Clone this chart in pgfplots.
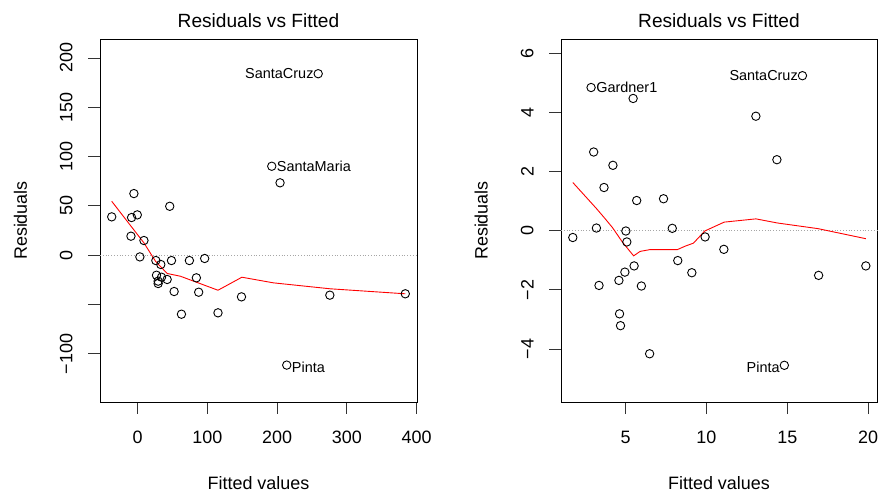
\documentclass[border=0pt]{standalone}
\usepackage{fontspec}
\setmainfont{Liberation Sans}
\usepackage{pgfplots}
\pgfplotsset{compat=1.18}

% Residual data of the two fitted models
\pgfplotstableread{
fit   res
-37.1  38.9
-8.6   38.2
-0.4   40.9
-5.3   62.5
-9.5   19.3
9.1    14.9
3.3    -1.7
26.2   -5.4
33.3   -9.4
48.6   -5.4
74.3   -5.4
96.2   -3.3
46.1   49.6
27.1  -20.3
34.3  -22.3
42.4  -24.6
29.5  -26.3
29.5  -28.7
84.3  -22.9
52.4  -36.8
87.6  -37.5
62.9  -59.8
115.3 -58.4
149.0 -42.2
275.7 -40.5
383.9 -39.1
213.9 -111.4
192.4  90.2
204.3  73.4
259.0 184.0
}\resA

\pgfplotstableread{
fit   res
-37.1  54.7
9.0    12.6
25.7   -6.1
42.4  -18.5
61.4  -21.3
115.3 -35.5
149.6 -22.3
194.7 -28.0
275.7 -34.0
383.9 -39.1
}\smoothA

\pgfplotstableread{
fit   res
2.87   4.84
5.47   4.47
3.03   2.66
4.22   2.21
3.67   1.46
5.69   1.02
7.35   1.08
15.94  5.24
13.06  3.87
14.36  2.40
1.74  -0.23
3.20   0.09
5.02  -0.01
5.08  -0.38
7.89   0.08
9.92  -0.21
11.08 -0.63
8.23  -1.01
9.10  -1.42
5.53  -1.19
4.96  -1.40
4.59  -1.68
3.36  -1.85
5.98  -1.87
4.63  -2.81
4.69  -3.21
6.49  -4.16
16.94 -1.51
19.86 -1.19
14.82 -4.55
}\resB

\pgfplotstableread{
fit   res
1.74   1.63
3.20   0.75
3.67   0.45
4.20   0.10
4.80  -0.38
5.50  -0.85
5.90  -0.70
6.50  -0.64
8.20  -0.64
8.70  -0.52
9.20  -0.42
9.90  -0.01
11.10  0.29
13.06  0.40
14.40  0.26
16.90  0.07
19.86 -0.27
}\smoothB

\tikzset{
  idlab/.style={font=\fontsize{14.5}{16}\selectfont, inner sep=0pt},
}

\pgfplotsset{
  rpanel/.style={
    scale only axis,
    height=363bp,
    axis line style={black, line width=0.8bp},
    tick align=outside,
    major tick length=12bp,
    every tick/.style={black!80, line width=0.8bp},
    xtick pos=bottom, ytick pos=left,
    minor tick num=0,
    /pgf/number format/assume math mode=true,
    tick label style={font=\fontsize{18}{20}\selectfont},
    yticklabel style={rotate=90, anchor=south, inner sep=0pt, yshift=15.3bp},
    xticklabel style={anchor=north, inner sep=0pt, yshift=-17bp},
    title style={yshift=6bp, anchor=base,
                 font=\fontsize{19.2}{22}\selectfont},
    every axis x label/.style={at={(0.5,0)}, anchor=base, yshift=-87bp,
                 font=\fontsize{18}{20}\selectfont},
    every axis y label/.style={rotate=90, anchor=base,
                 font=\fontsize{18}{20}\selectfont},
    title={Residuals vs Fitted},
    xlabel={Fitted values},
    ylabel={Residuals},
    clip=false,
  },
  pts/.style={only marks, mark=o, mark size=4.2bp,
              mark options={line width=0.9bp, black}},
  smooth line/.style={red, line width=0.9bp, mark=none},
  zero line/.style={black!35, dotted, line width=0.8bp},
}

\begin{document}
\begin{tikzpicture}
\useasboundingbox (0,0) rectangle (880bp,493bp);

\begin{axis}[rpanel,
  at={(100bp,91bp)}, anchor=south west, width=317bp,
  xmin=-53.9, xmax=400.7, ymin=-148.8, ymax=219.2,
  xtick={0,100,200,300,400},
  ytick={-100,-50,0,50,100,150,200},
  yticklabels={−100,,0,50,100,150,200},
  every axis y label/.append style={at={(axis description cs:-0.2303,0.5)}},
]
\addplot[zero line] coordinates {(-53.9,0) (400.7,0)};
\addplot[pts] table[x=fit, y=res] {\resA};
\addplot[smooth line] table[x=fit, y=res] {\smoothA};
\node[idlab, anchor=east, xshift=-4.5bp] at (axis cs:259.0,184.0) {SantaCruz};
\node[idlab, anchor=west, xshift=5bp] at (axis cs:192.4,90.2) {SantaMaria};
\node[idlab, anchor=west, xshift=5bp, yshift=-2bp] at (axis cs:213.9,-111.4) {Pinta};
\end{axis}

\begin{axis}[rpanel,
  at={(561bp,91bp)}, anchor=south west, width=316bp,
  xmin=1.01, xmax=20.55, ymin=-5.79, ymax=6.48,
  xtick={5,10,15,20},
  ytick={-4,-2,0,2,4,6},
  yticklabels={−4,−2,0,2,4,6},
  every axis y label/.append style={at={(axis description cs:-0.2326,0.5)}},
]
\addplot[zero line] coordinates {(1.01,0) (20.55,0)};
\addplot[pts] table[x=fit, y=res] {\resB};
\addplot[smooth line] table[x=fit, y=res] {\smoothB};
\node[idlab, anchor=west, xshift=5bp] at (axis cs:2.87,4.84) {Gardner1};
\node[idlab, anchor=east, xshift=-4.5bp] at (axis cs:15.94,5.24) {SantaCruz};
\node[idlab, anchor=east, xshift=-4.5bp, yshift=-2bp] at (axis cs:14.82,-4.55) {Pinta};
\end{axis}
\end{tikzpicture}
\end{document}
